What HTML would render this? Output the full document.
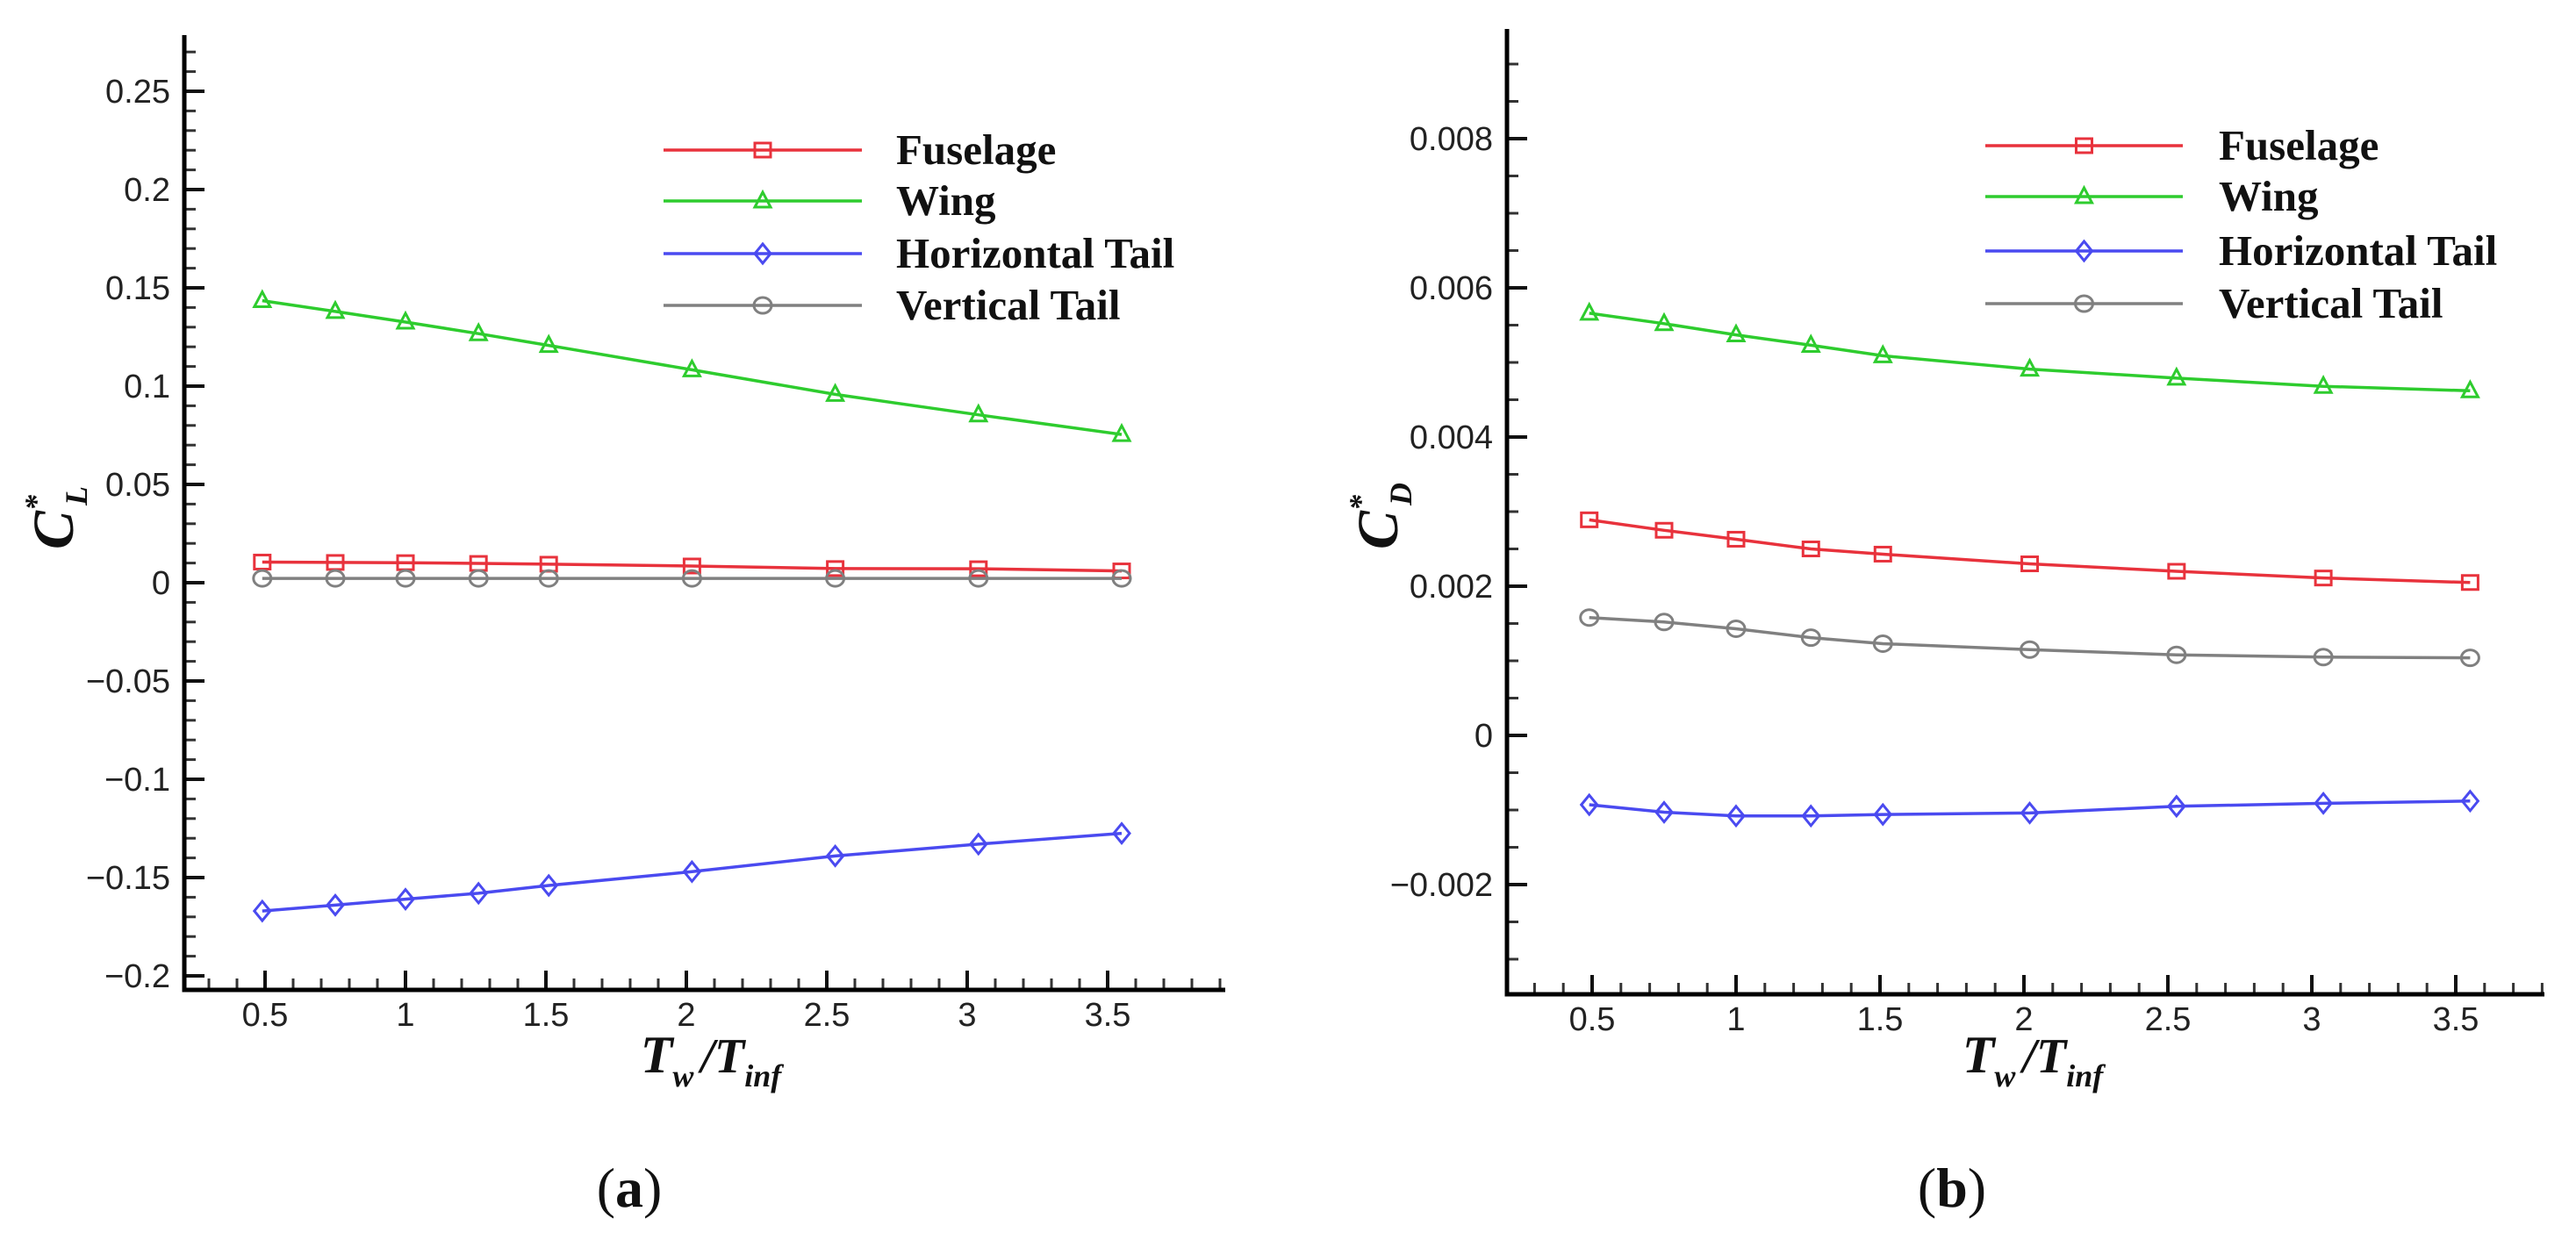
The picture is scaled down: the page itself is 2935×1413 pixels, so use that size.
<!DOCTYPE html>
<html><head><meta charset="utf-8"><style>
html,body{margin:0;padding:0;background:#fff;}
svg{display:block;}
.tick{font-family:"Liberation Sans",sans-serif;font-size:38px;fill:#222;}
.leg{font-family:"Liberation Serif",serif;font-weight:bold;font-size:49px;fill:#111;}
.ttl{font-family:"Liberation Serif",serif;font-weight:bold;font-style:italic;fill:#111;}
.cap{font-family:"Liberation Serif",serif;font-size:64px;fill:#111;}
</style></head><body>
<svg id="fig" width="2935" height="1413" viewBox="0 0 2935 1413" xmlns="http://www.w3.org/2000/svg">
<g id="panelA"></g>
<g id="panelB"></g>
</svg>
<script>
const xValues = [0.49, 0.75, 1.0, 1.26, 1.51, 2.02, 2.53, 3.04, 3.55];
const seriesNames = ["Fuselage", "Wing", "Horizontal Tail", "Vertical Tail"];
const clFuselage = [0.0105, 0.0103, 0.0102, 0.0098, 0.0094, 0.0085, 0.0072, 0.0071, 0.0060];
const clWing = [0.1435, 0.138, 0.1326, 0.1267, 0.1207, 0.1083, 0.0958, 0.0854, 0.0754];
const clHTail = [-0.167, -0.164, -0.161, -0.158, -0.154, -0.147, -0.139, -0.133, -0.1275];
const clVTail = [0.0022, 0.0022, 0.0022, 0.0022, 0.0022, 0.0022, 0.0022, 0.0022, 0.0022];
const cdFuselage = [0.00289, 0.00275, 0.00263, 0.00250, 0.00243, 0.00230, 0.00220, 0.00211, 0.00205];
const cdWing = [0.00566, 0.00552, 0.00537, 0.00523, 0.00509, 0.00491, 0.00479, 0.00468, 0.00462];
const cdHTail = [-0.00093, -0.00103, -0.00108, -0.00108, -0.00106, -0.00104, -0.00095, -0.00091, -0.00088];
const cdVTail = [0.00158, 0.00152, 0.00143, 0.00131, 0.00123, 0.00115, 0.00108, 0.00105, 0.00104];
const xTickValues = [0.5, 1, 1.5, 2, 2.5, 3, 3.5];
const xTickLabels = ["0.5", "1", "1.5", "2", "2.5", "3", "3.5"];
const clTickValues = [0.25, 0.2, 0.15, 0.1, 0.05, 0, -0.05, -0.1, -0.15, -0.2];
const clTickLabels = ["0.25", "0.2", "0.15", "0.1", "0.05", "0", "\u22120.05", "\u22120.1", "\u22120.15", "\u22120.2"];
const cdTickValues = [0.008, 0.006, 0.004, 0.002, 0, -0.002];
const cdTickLabels = ["0.008", "0.006", "0.004", "0.002", "0", "\u22120.002"];

const NS = "http://www.w3.org/2000/svg";
const colors = ["#e8323c", "#2ecc2e", "#4a4af0", "#808080"];
const markers = ["square", "triangle", "diamond", "circle"];

function mk(tag, attrs, parent) {
  const e = document.createElementNS(NS, tag);
  for (const k in attrs) e.setAttribute(k, attrs[k]);
  parent.appendChild(e);
  return e;
}
function drawMarker(g, type, cx, cy, color) {
  let m;
  if (type === "square") m = mk("rect", {x: cx - 9, y: cy - 8, width: 18, height: 16}, g);
  else if (type === "triangle") m = mk("polygon", {points: `${cx},${cy - 10} ${cx - 9},${cy + 7} ${cx + 9},${cy + 7}`}, g);
  else if (type === "diamond") m = mk("polygon", {points: `${cx},${cy - 11} ${cx + 9},${cy} ${cx},${cy + 11} ${cx - 9},${cy}`}, g);
  else m = mk("ellipse", {cx: cx, cy: cy, rx: 10, ry: 9}, g);
  m.setAttribute("fill", "none");
  m.setAttribute("stroke", color);
  m.setAttribute("stroke-width", "3");
  
  
  return m;
}

function drawPanel(g, cfg) {
  const X = v => cfg.x0 + v * cfg.xs;
  const Y = v => cfg.yZero - v * cfg.ys;
  const L = cfg.axLeft, B = cfg.axBottom;
  const ticks = mk("g", {}, g);
  
  
  for (let v = cfg.yMinorStart; v <= cfg.yMinorEnd + 1e-12; v += cfg.yMinor) {
    const y = Y(v);
    if (y < cfg.axTop || y > B) continue;
    mk("line", {x1: L, x2: L + 13, y1: y, y2: y, stroke: "#333", "stroke-width": 3}, ticks);
  }
  for (let v = 0.3; v <= cfg.xMax + 1e-9; v += 0.1) {
    const x = X(v);
    if (x < L || x > cfg.axRight) continue;
    mk("line", {x1: x, x2: x, y1: B, y2: B - 13, stroke: "#333", "stroke-width": 3}, ticks);
  }
  cfg.yTicks.forEach((v, i) => {
    const y = Y(v);
    mk("line", {x1: L, x2: L + 23, y1: y, y2: y, stroke: "#111", "stroke-width": 4}, ticks);
    const t = mk("text", {x: L - 16, y: y + 13, "text-anchor": "end", class: "tick"}, g);
    t.textContent = cfg.yLabels[i];
    
    
  });
  xTickValues.forEach((v, i) => {
    const x = X(v);
    mk("line", {x1: x, x2: x, y1: B, y2: B - 22, stroke: "#111", "stroke-width": 4}, ticks);
    const t = mk("text", {x: x, y: B + 41, "text-anchor": "middle", class: "tick"}, g);
    t.textContent = xTickLabels[i];
    
    
  });
  const ax = mk("path", {d: `M${L},${cfg.axTop} L${L},${B} L${cfg.axRight},${B}`, fill: "none", stroke: "#000", "stroke-width": 5}, g);
  
  
  cfg.series.forEach((vals, s) => {
    const sg = mk("g", {}, g);
    
    
    const pts = vals.map((v, i) => X(xValues[i]).toFixed(1) + "," + Y(v).toFixed(1)).join(" ");
    const pl = mk("polyline", {points: pts, fill: "none", stroke: colors[s], "stroke-width": 3.5}, sg);
    
    
    vals.forEach((v, i) => drawMarker(sg, markers[s], X(xValues[i]), Y(v), colors[s]));
  });
  const lg = mk("g", {}, g);
  
  
  seriesNames.forEach((n, s) => {
    const y = cfg.legRows[s];
    const e = mk("g", {}, lg);
    
    
    mk("line", {x1: cfg.legX1, x2: cfg.legX2, y1: y, y2: y, stroke: colors[s], "stroke-width": 3.5}, e);
    drawMarker(e, markers[s], (cfg.legX1 + cfg.legX2) / 2, y, colors[s]);
    const t = mk("text", {x: cfg.legText, y: y + 16, class: "leg"}, e);
    t.textContent = n;
  });
  const yt = mk("text", {transform: `translate(${cfg.yTitleX},${cfg.yTitleY}) rotate(-90)`, "text-anchor": "middle", class: "ttl", "font-size": 66}, g);
  
  
  yt.innerHTML = `C<tspan font-size="36" dy="-30">*</tspan><tspan font-size="36" dx="-12" dy="46">${cfg.ySub}</tspan>`;
  const xt = mk("text", {x: cfg.xTitleX, y: 1222, "text-anchor": "middle", class: "ttl", "font-size": 60}, g);
  
  
  xt.innerHTML = `T<tspan font-size="36" dy="16">w</tspan><tspan dy="-16" dx="8" font-size="56">/T</tspan><tspan font-size="36" dy="16">inf</tspan>`;
  const cp = mk("text", {x: cfg.capX, y: 1375, "text-anchor": "middle", class: "cap"}, g);
  
  
  cp.innerHTML = `(<tspan font-weight="bold">${cfg.cap}</tspan>)`;
}

drawPanel(document.getElementById("panelA"), {
  x0: 142, xs: 320, yZero: 664, ys: 2240,
  axLeft: 210, axTop: 40, axBottom: 1128, axRight: 1396, xMax: 3.9,
  yMinor: 0.01, yMinorStart: -0.2, yMinorEnd: 0.28,
  yTicks: clTickValues, yLabels: clTickLabels,
  series: [clFuselage, clWing, clHTail, clVTail],
  legRows: [171, 229, 289, 348], legX1: 756, legX2: 982, legText: 1021,
  yTitleX: 83, yTitleY: 590, ySub: "L", xTitleX: 810, capX: 717, cap: "a"
});
drawPanel(document.getElementById("panelB"), {
  x0: 1650, xs: 328, yZero: 838, ys: 85000,
  axLeft: 1717, axTop: 33, axBottom: 1133, axRight: 2899, xMax: 3.8,
  yMinor: 0.0005, yMinorStart: -0.0035, yMinorEnd: 0.0095,
  yTicks: cdTickValues, yLabels: cdTickLabels,
  series: [cdFuselage, cdWing, cdHTail, cdVTail],
  legRows: [166, 224, 286, 346], legX1: 2262, legX2: 2487, legText: 2528,
  yTitleX: 1592, yTitleY: 588, ySub: "D", xTitleX: 2316, capX: 2224, cap: "b"
});
</script>
</body></html>
